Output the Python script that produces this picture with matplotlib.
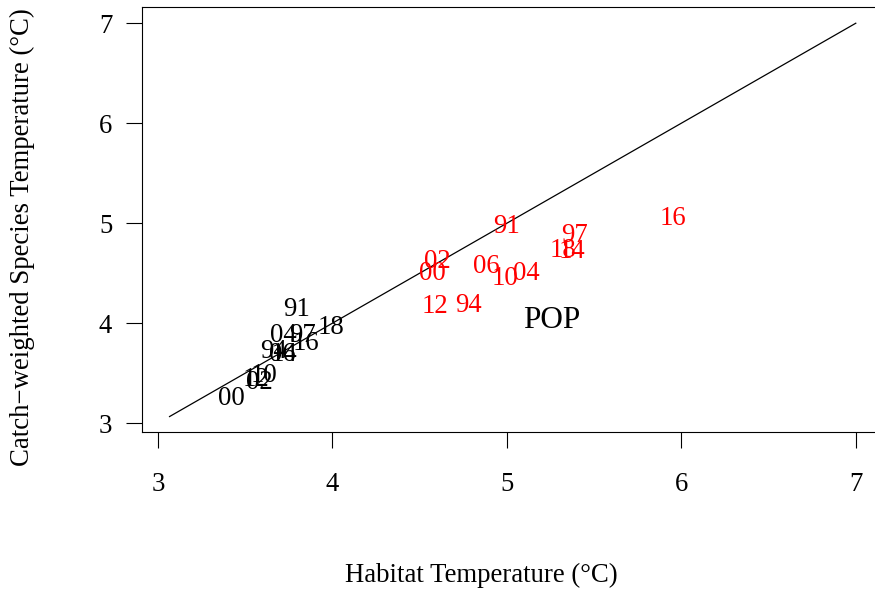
import matplotlib
matplotlib.use('Agg')
import matplotlib.pyplot as plt

plt.rcParams['font.family'] = ['Liberation Serif', 'DejaVu Serif']

# year labels for the two sets, placed at (habitat temp, catch-weighted temp)
years_a = ['91', '18', '04', '97', '16', '94', '06', '14', '10', '02', '12', '00']
hab_a = [3.795, 3.99, 3.72, 3.83, 3.85, 3.66, 3.71, 3.72, 3.61, 3.58, 3.56, 3.42]
cw_a = [4.14, 3.96, 3.88, 3.88, 3.80, 3.72, 3.69, 3.69, 3.48, 3.41, 3.44, 3.25]

years_b = ['91', '02', '00', '06', '10', '04', '18', '14', '97', '16', '12', '94']
hab_b = [5.00, 4.60, 4.57, 4.88, 4.99, 5.11, 5.32, 5.37, 5.39, 5.95, 4.59, 4.78]
cw_b = [4.97, 4.62, 4.50, 4.57, 4.45, 4.50, 4.73, 4.72, 4.88, 5.05, 4.17, 4.18]

lim_lo, lim_hi = 3.066, 7.0
pad = 0.04 * (lim_hi - lim_lo)
fs = 19.3

fig = plt.figure(figsize=(8.75, 5.9), dpi=100)
ax = fig.add_axes([0.1624, 0.2673, 0.847, 0.7200])

ax.plot([lim_lo, lim_hi], [lim_lo, lim_hi], color='black', lw=0.9)

for lab, x, y in zip(years_a, hab_a, cw_a):
    ax.text(x, y, lab, ha='center', va='center', fontsize=fs, color='black')
for lab, x, y in zip(years_b, hab_b, cw_b):
    ax.text(x, y, lab, ha='center', va='center', fontsize=fs, color='red')

ax.text(5.256, 4.03, 'POP', ha='center', va='center', fontsize=22.5, color='black')

ax.set_xlim(lim_lo - pad, lim_hi + pad)
ax.set_ylim(lim_lo - pad, lim_hi + pad)
ax.set_xticks([3, 4, 5, 6, 7])
ax.set_yticks([3, 4, 5, 6, 7])
ax.tick_params(direction='out', length=11.5, width=0.8, labelsize=fs)
ax.tick_params(axis='x', pad=17)
ax.tick_params(axis='y', pad=10)
for s in ax.spines.values():
    s.set_linewidth(0.8)

fig.text(481 / 875, 1 - 575 / 590, 'Habitat Temperature (°C)', ha='center', va='center', fontsize=fs)
fig.text(22 / 875, 1 - 237 / 590, 'Catch\u2212weighted Species Temperature (°C)',
         ha='center', va='center', rotation=90, fontsize=fs)

fig.savefig('out.png', dpi=100)
